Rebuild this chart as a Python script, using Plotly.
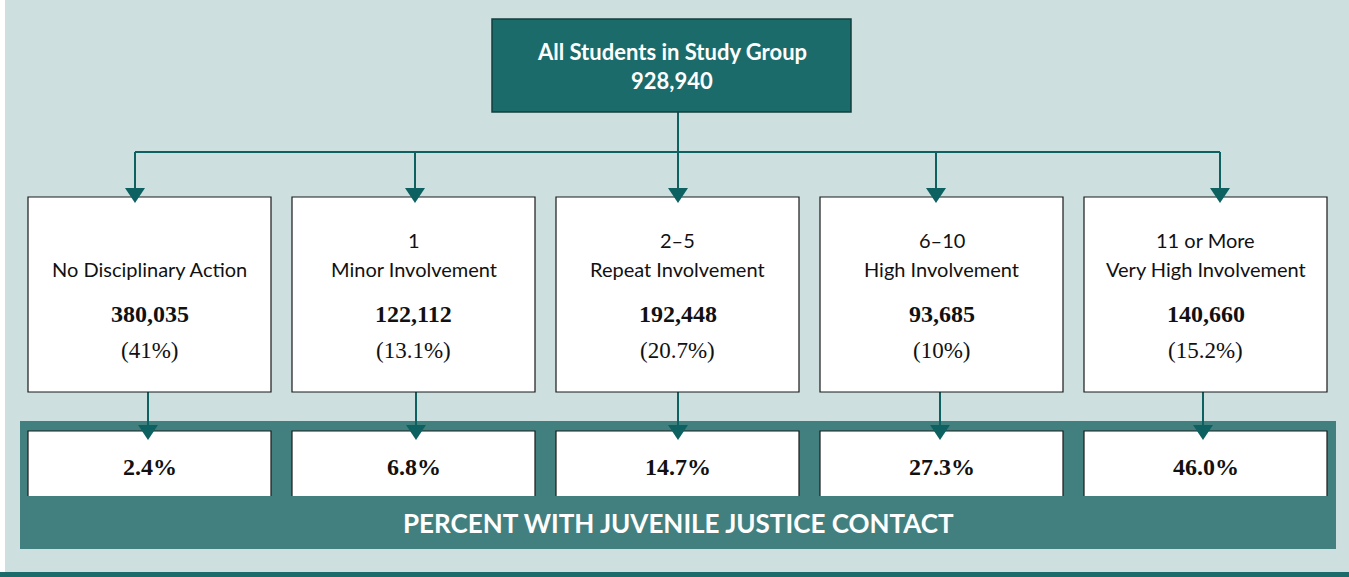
import plotly.graph_objects as go

# ---------------- data ----------------
total_label = "All Students in Study Group"
total_students = 928940
group_ranges = ["", "1", "2–5", "6–10", "11 or More"]
group_names = ["No Disciplinary Action", "Minor Involvement", "Repeat Involvement",
               "High Involvement", "Very High Involvement"]
group_counts = [380035, 122112, 192448, 93685, 140660]
group_shares = [41, 13.1, 20.7, 10, 15.2]
jj_contact_rates = [2.4, 6.8, 14.7, 27.3, 46.0]
band_title = "PERCENT WITH JUVENILE JUSTICE CONTACT"

# ---------------- layout constants ----------------
W, H = 1349, 577
BG = "#cddfdf"
DARK = "#1b6b6b"
BAND = "#428080"
LINE = "#0d6161"
SANS = "Lato, 'Noto Sans', sans-serif"
SERIF = "'Liberation Serif', 'DejaVu Serif', serif"

box_x0, box_w, box_step = 28, 243, 264
box_y0, box_y1 = 197, 392
low_y0, low_y1 = 431, 496
band = (20, 421, 1336, 549)
top_box = (492, 19, 851, 112)
hline_y = 152
top_arrow_x = [135, 415, 678, 936, 1220]
low_arrow_x = [148, 416, 678, 940, 1203]

shapes = []
ann = []

def rect(x0, y0, x1, y1, fill, line_color=None, lw=0):
    shapes.append(dict(type="rect", xref="x", yref="y", x0=x0, y0=y0, x1=x1, y1=y1,
                       fillcolor=fill, line=dict(color=line_color or fill, width=lw),
                       layer="above"))

def seg(x0, y0, x1, y1, color=LINE, lw=2):
    shapes.append(dict(type="line", xref="x", yref="y", x0=x0, y0=y0, x1=x1, y1=y1,
                       line=dict(color=color, width=lw), layer="above"))

def arrowhead(x, tip_y, w=20, h=15):
    shapes.append(dict(type="path", xref="x", yref="y",
                       path=f"M {x - w/2},{tip_y - h} L {x + w/2},{tip_y - h} L {x},{tip_y} Z",
                       fillcolor=LINE, line=dict(color=LINE, width=0), layer="above"))

def text(x, y, s, size, color="#111", family=SANS, bold=False):
    if bold:
        s = f"<b>{s}</b>"
    ann.append(dict(x=x, y=y, xref="x", yref="y", text=s, showarrow=False,
                    xanchor="center", yanchor="middle",
                    font=dict(size=size, color=color, family=family)))

# background
rect(5, 0, W, 572, BG)
rect(0, 572, W, H, DARK)

# connectors from the top box
cx_top = (top_box[0] + top_box[2]) / 2
stem_x = top_arrow_x[2]
seg(stem_x, top_box[3], stem_x, hline_y)
seg(top_arrow_x[0], hline_y, top_arrow_x[-1], hline_y)

# bottom band
rect(*band, BAND)

# top box
rect(*top_box, DARK, "#123f3f", 1.5)
text(cx_top, 51, total_label, 22, "white", SANS, True)
text(cx_top, 80, f"{total_students:,}", 22, "white", SANS, True)

for i, (rng, name, n, share, rate) in enumerate(zip(group_ranges, group_names, group_counts,
                                                     group_shares, jj_contact_rates)):
    x0 = box_x0 + i * box_step
    x1 = x0 + box_w
    cx = (x0 + x1) / 2
    ta = top_arrow_x[i]
    la = low_arrow_x[i]
    # connectors
    seg(ta, hline_y, ta, box_y0)
    seg(la, box_y1, la, low_y0)
    # upper box
    rect(x0, box_y0, x1, box_y1, "white", "#1a1a1a", 1.2)
    # lower box (open at the bottom)
    rect(x0, low_y0, x1, low_y1, "white")
    shapes.append(dict(type="path", xref="x", yref="y",
                       path=f"M {x0},{low_y1} L {x0},{low_y0} L {x1},{low_y0} L {x1},{low_y1}",
                       line=dict(color="#1a1a1a", width=1.2), layer="above"))
    arrowhead(ta, 203)
    arrowhead(la, 440)
    # texts
    if rng:
        text(cx, 240, rng, 20)
    text(cx, 269, name, 20)
    text(cx, 314, f"{n:,}", 24, "#111", SERIF, True)
    text(cx, 350, f"({share:g}%)", 23, "#111", SERIF)
    text(cx, 467, f"{rate:.1f}%", 24, "#111", SERIF, True)

text((band[0] + band[2]) / 2, 523, band_title, 26, "white", SANS, True)

fig = go.Figure()
fig.update_layout(
    width=W, height=H, margin=dict(l=0, r=0, t=0, b=0),
    paper_bgcolor="white", plot_bgcolor="white",
    xaxis=dict(range=[0, W], visible=False, fixedrange=True),
    yaxis=dict(range=[H, 0], visible=False, fixedrange=True),
    shapes=shapes, annotations=ann, showlegend=False,
)
fig.write_html("out.html", config={"displayModeBar": False},
               post_script="document.body.style.margin='0';document.body.style.overflow='hidden';")
